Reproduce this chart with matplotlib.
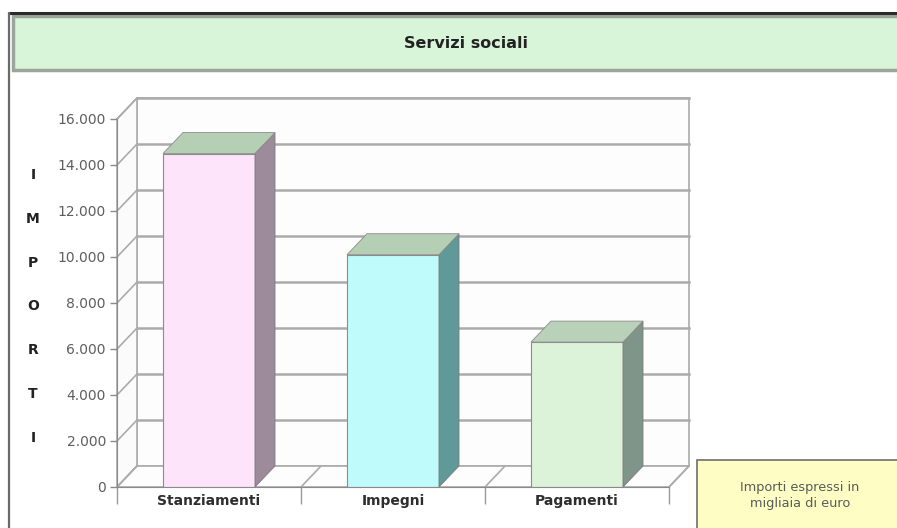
import matplotlib
matplotlib.use('Agg')
import matplotlib.pyplot as plt
from matplotlib.patches import Polygon, Rectangle

# ---------------- data ----------------
categories = ['Stanziamenti', 'Impegni', 'Pagamenti']
values = [14500, 10100, 6300]
yticks = [0, 2000, 4000, 6000, 8000, 10000, 12000, 14000, 16000]
ytick_labels = ['0', '2.000', '4.000', '6.000', '8.000', '10.000', '12.000', '14.000', '16.000']
axis_letters = ['I', 'M', 'P', 'O', 'R', 'T', 'I']
title = 'Servizi sociali'
note = 'Importi espressi in\nmigliaia di euro'

# ---------------- styles ----------------
front_colors = ['#fde4fb', '#c0fbfc', '#dcf3da']
side_colors = ['#9d8a9a', '#5f9a99', '#80958a']
top_colors = ['#b4cfb4', '#b4cfb4', '#b9d0b9']
grid_color = '#ababab'
plt.rcParams['font.family'] = ['DejaVu Sans']

W, H = 897, 528
fig = plt.figure(figsize=(W / 100, H / 100), dpi=100)
fig.patch.set_facecolor('white')

def fx(px):
    return px / W

def fy(py):
    return 1 - py / H

# frame lines of the screenshot
fig.add_artist(plt.Line2D([fx(9), fx(897)], [fy(12.5), fy(12.5)], color='#2b2b2b', lw=2.2,
                          solid_capstyle='butt', transform=fig.transFigure))
fig.add_artist(plt.Line2D([fx(8.5), fx(8.5)], [fy(12), fy(528)], color='#6a6a6a', lw=1.6,
                          solid_capstyle='butt', transform=fig.transFigure))

# title box
fig.add_artist(Rectangle((fx(13), fy(70)), fx(900) - fx(13), fy(16) - fy(70), transform=fig.transFigure,
                         facecolor='#d8f5da', edgecolor='#9aa69a', lw=2.5))
fig.text(fx(466), fy(44), title, ha='center', va='center', fontsize=11.5, fontweight='bold', color='#222222')

# main axes = front plane of the 3D box
ax_l, ax_r, ax_t, ax_b = 117, 669, 119, 487
ax = fig.add_axes([fx(ax_l), fy(ax_b), fx(ax_r) - fx(ax_l), fy(ax_t) - fy(ax_b)])
ax.set_xlim(-0.5, 2.5)
ax.set_ylim(0, 16000)
ax.patch.set_alpha(0)

# depth offset (20 px right, 21 px up) in data units
dx = 20 / (ax_r - ax_l) * 3.0
dy = 21 / (ax_b - ax_t) * 16000.0
x0, x1 = -0.5, 2.5
ymax = yticks[-1]

# back wall
ax.add_patch(Rectangle((x0 + dx, dy), x1 - x0, ymax, facecolor='#fdfdfd', edgecolor=grid_color,
                       lw=1.2, zorder=0.5, clip_on=False))
# left wall & floor faces
ax.add_patch(Polygon([(x0, 0), (x0 + dx, dy), (x0 + dx, ymax + dy), (x0, ymax)], closed=True,
                     facecolor='#fbfbfb', edgecolor=grid_color, lw=1.2, zorder=0.5, clip_on=False))
ax.add_patch(Polygon([(x0, 0), (x1, 0), (x1 + dx, dy), (x0 + dx, dy)], closed=True,
                     facecolor='#fdfdfd', edgecolor=grid_color, lw=1.2, zorder=0.5, clip_on=False))

# gridlines on back wall and left wall
for v in yticks[1:]:
    ax.plot([x0 + dx, x1 + dx], [v + dy, v + dy], color=grid_color, lw=1.8, zorder=0.8, clip_on=False)
    ax.plot([x0, x0 + dx], [v, v + dy], color=grid_color, lw=1.2, zorder=0.8, clip_on=False)
# floor diagonals at category boundaries
for b in [-0.5, 0.5, 1.5, 2.5]:
    ax.plot([b, b + dx], [0, dy], color=grid_color, lw=1.2, zorder=0.8, clip_on=False)

# bars
bw = 0.5
bars = ax.bar(range(len(categories)), values, width=bw, color=front_colors, edgecolor='#8c8c8c',
              lw=0.8, zorder=3)
for i, (rect, v) in enumerate(zip(bars, values)):
    l = rect.get_x()
    r = l + rect.get_width()
    side = Polygon([(r, 0), (r + dx, dy), (r + dx, v + dy), (r, v)], closed=True,
                   facecolor=side_colors[i], edgecolor='#7a7a7a', lw=0.6, zorder=3)
    top = Polygon([(l, v), (r, v), (r + dx, v + dy), (l + dx, v + dy)], closed=True,
                  facecolor=top_colors[i], edgecolor='#8c8c8c', lw=0.6, zorder=3)
    ax.add_patch(side)
    ax.add_patch(top)

# axes styling
for s in ['top', 'right']:
    ax.spines[s].set_visible(False)
ax.spines['left'].set_color('#8a8a8a')
ax.spines['bottom'].set_color('#8a8a8a')
ax.spines['left'].set_zorder(4)
ax.spines['bottom'].set_zorder(4)
ax.set_yticks(yticks)
ax.set_yticklabels(ytick_labels)
ax.tick_params(axis='y', direction='out', length=5, width=1, color='#8a8a8a', labelcolor='#5e5e5e',
               labelsize=10, pad=3)
ax.set_xticks(range(len(categories)))
ax.set_xticklabels(categories, fontweight='bold', fontsize=10, color='#2e2e2e')
ax.tick_params(axis='x', which='major', length=0, pad=5)
ax.set_xticks([-0.5, 0.5, 1.5, 2.5], minor=True)
ax.tick_params(axis='x', which='minor', direction='out', length=12, width=1, color='#9a9a9a')

# vertical axis title letters
for k, ch in enumerate(axis_letters):
    fig.text(fx(33), fy(175 + k * 43.8), ch, ha='center', va='center', fontsize=10, fontweight='bold',
             color='#222222')

# note box
fig.add_artist(Rectangle((fx(697), fy(530)), fx(905) - fx(697), fy(460) - fy(530), transform=fig.transFigure,
                         facecolor='#fefec4', edgecolor='#6e6e6e', lw=1.2))
fig.text(fx(800), fy(496), note, ha='center', va='center', fontsize=9.3, color='#5a5a5a', linespacing=1.3)

fig.savefig('out.png', dpi=100, facecolor='white')
